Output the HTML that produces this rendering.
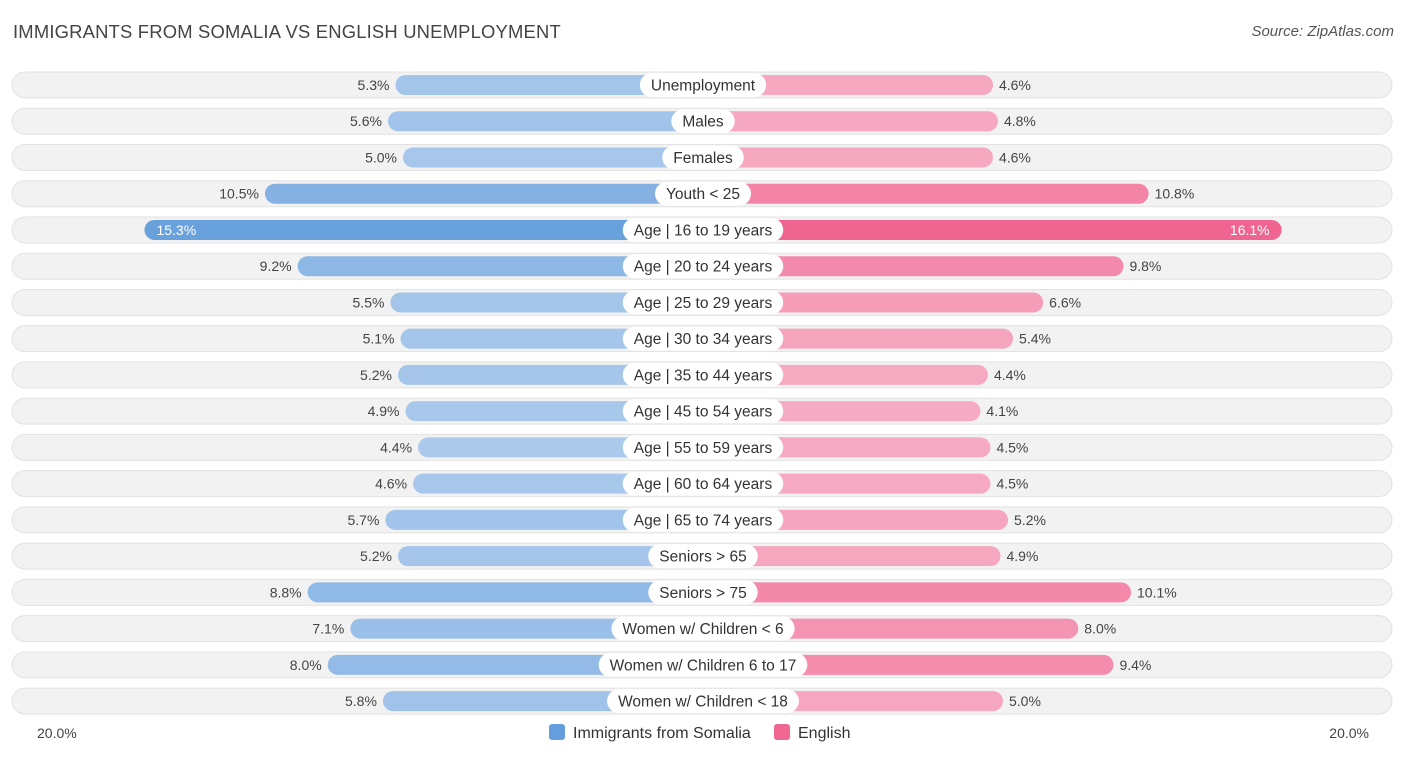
<!DOCTYPE html>
<html><head><meta charset="utf-8"><style>
body{margin:0;background:#fff;font-family:"Liberation Sans",sans-serif;}
#wrap{position:relative;width:1406px;height:757px;overflow:hidden;}
.title{position:absolute;left:13px;top:21px;font-size:18.4px;color:#444;letter-spacing:0.2px}
.src{position:absolute;right:12px;top:23px;font-size:15px;color:#555;font-style:italic}
svg text{font-family:"Liberation Sans",sans-serif;}
</style></head><body>
<div id="wrap">
<div class="title">IMMIGRANTS FROM SOMALIA VS ENGLISH UNEMPLOYMENT</div>
<div class="src">Source: ZipAtlas.com</div>
<svg id="svg" width="1406" height="757" style="position:absolute;left:0;top:0"></svg>
</div>
<script>
const categories=["Unemployment","Males","Females","Youth < 25","Age | 16 to 19 years","Age | 20 to 24 years","Age | 25 to 29 years","Age | 30 to 34 years","Age | 35 to 44 years","Age | 45 to 54 years","Age | 55 to 59 years","Age | 60 to 64 years","Age | 65 to 74 years","Seniors > 65","Seniors > 75","Women w/ Children < 6","Women w/ Children 6 to 17","Women w/ Children < 18"];
const somalia=[5.3,5.6,5.0,10.5,15.3,9.2,5.5,5.1,5.2,4.9,4.4,4.6,5.7,5.2,8.8,7.1,8.0,5.8];
const english=[4.6,4.8,4.6,10.8,16.1,9.8,6.6,5.4,4.4,4.1,4.5,4.5,5.2,4.9,10.1,8.0,9.4,5.0];
const axisLabels=["20.0%","20.0%"];
const svg=document.getElementById('svg');const NS='http://www.w3.org/2000/svg';
const cx=703,y0=85,dy=36.24;
const w=v=>174.5+25.1*v;
const maxV=Math.max(...somalia,...english);
function el(t,a,p){const e=document.createElementNS(NS,t);for(const k in a)e.setAttribute(k,a[k]);(p||svg).appendChild(e);return e;}
function mix(c1,c2,t){return 'rgb('+c1.map((c,i)=>Math.round(c+(c2[i]-c)*t)).join(',')+')';}
const bl=[172,202,236],bd=[100,158,220],pl=[246,172,196],pd=[240,100,145];
categories.forEach((c,i)=>{
 const y=y0+i*dy;
 const g=el('g',{});
 
 
 const bg=el('rect',{x:12,y:y-13,width:1380,height:26,rx:13,fill:'#f2f2f2',stroke:'#e2e2e2','stroke-width':1},g);
 
 
 const s=somalia[i],e=english[i];
 const ts=Math.max(0,(s-4)/(maxV-4)),te=Math.max(0,(e-4)/(maxV-4));
 const b1=el('rect',{x:cx-w(s),y:y-10,width:w(s),height:20,rx:10,fill:mix(bl,bd,ts)},g);
 
 
 const b2=el('rect',{x:cx,y:y-10,width:w(e),height:20,rx:10,fill:mix(pl,pd,te)},g);
 
 
 const inS=s>14,inE=e>14;
 const t1=el('text',{x:inS?cx-w(s)+12:cx-w(s)-6,y:y+5,'font-size':14,fill:inS?'#fff':'#444','text-anchor':inS?'start':'end'},g);
 t1.textContent=s.toFixed(1)+'%';
 
 
 const t2=el('text',{x:inE?cx+w(e)-12:cx+w(e)+6,y:y+5,'font-size':14,fill:inE?'#fff':'#444','text-anchor':inE?'end':'start'},g);
 t2.textContent=e.toFixed(1)+'%';
 
 
 const lb=el('rect',{x:cx-40,y:y-12,width:80,height:24,rx:12,fill:'#fff'},g);
 
 
 const lt=el('text',{x:cx,y:y+5.5,'font-size':15.5,fill:'#333','text-anchor':'middle'},g);
 lt.textContent=c;
 
 
 const lw=lt.getComputedTextLength()+22;
 lb.setAttribute('x',cx-lw/2);lb.setAttribute('width',lw);
});
const a1=el('text',{x:37,y:738,'font-size':14,fill:'#444'});a1.textContent=axisLabels[0];


const a2=el('text',{x:1369,y:738,'font-size':14,fill:'#444','text-anchor':'end'});a2.textContent=axisLabels[1];


const l1=el('rect',{x:549,y:724,width:16,height:16,rx:3,fill:'#649edc'});


const lt1=el('text',{x:573,y:738,'font-size':16,fill:'#333'});lt1.textContent='Immigrants from Somalia';


const l2=el('rect',{x:774,y:724,width:16,height:16,rx:3,fill:'#f06892'});


const lt2=el('text',{x:798,y:738,'font-size':16,fill:'#333'});lt2.textContent='English';


</script>
</body></html>
